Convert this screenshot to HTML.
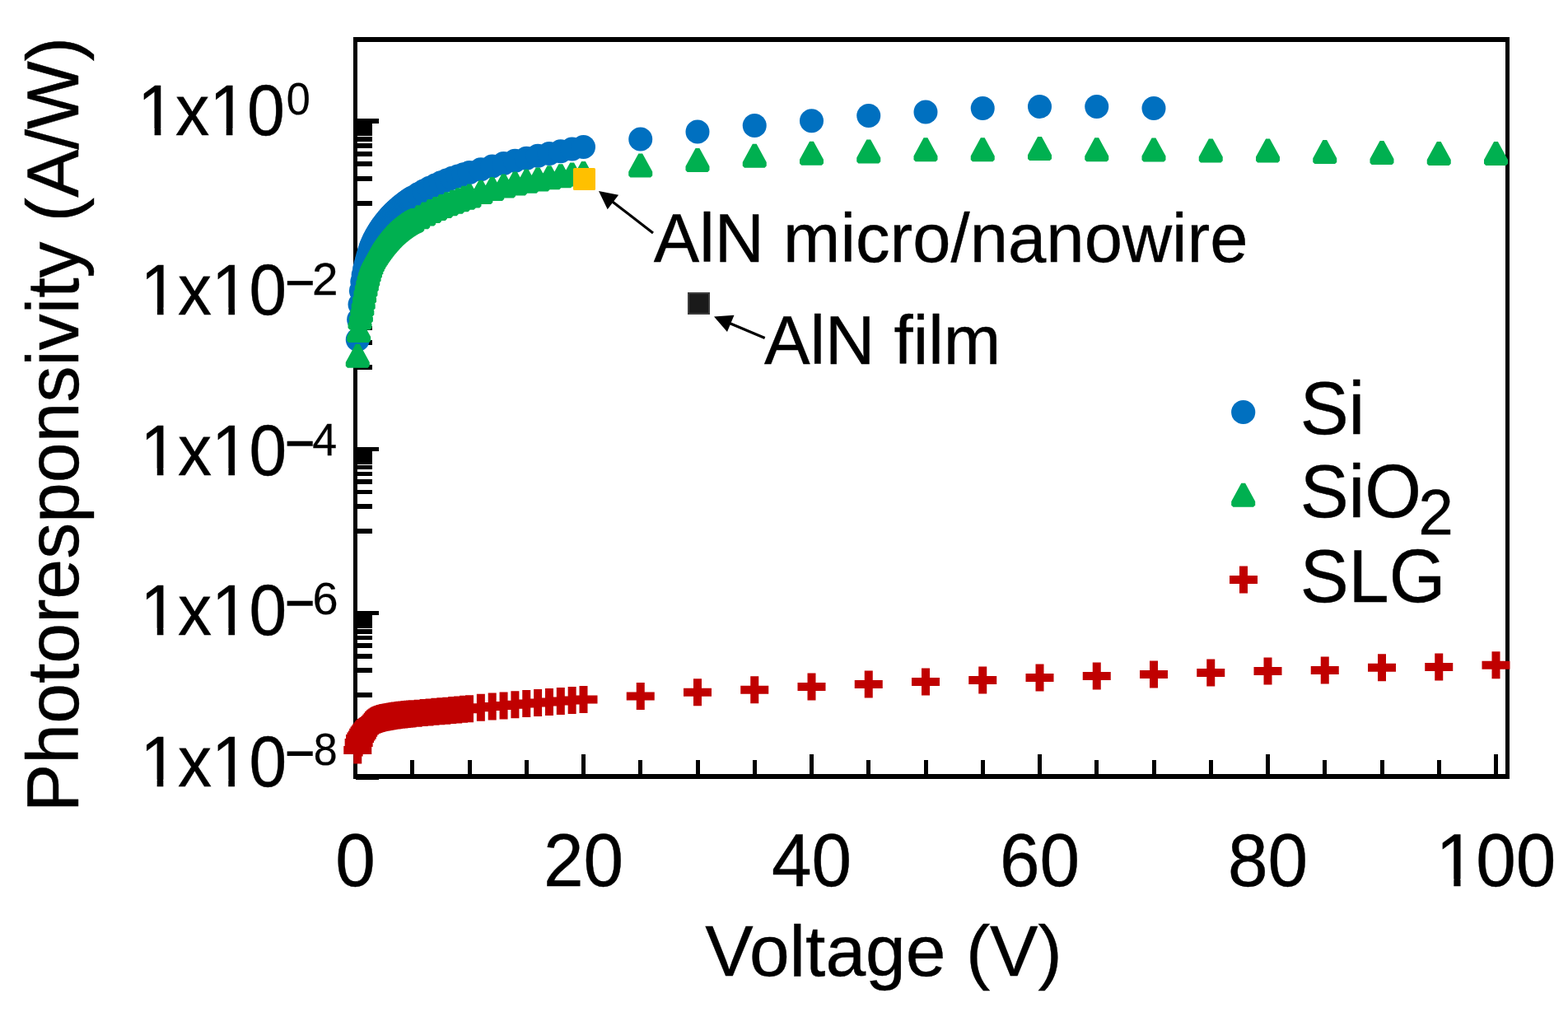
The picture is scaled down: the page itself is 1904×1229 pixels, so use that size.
<!DOCTYPE html><html><head><meta charset="utf-8"><style>html,body{margin:0;padding:0;background:#fff;overflow:hidden}svg{display:block}</style></head><body><svg width="1904" height="1229" viewBox="0 0 1904 1229">
<defs>
<clipPath id="k1"><path clip-rule="evenodd" d="M-100,-200H400V100H-100ZM4.50,-9.5H24.90V2H4.50ZM34.20,-9.5H53.50V2H34.20ZM110.12,-9.5H130.52V2H110.12ZM139.81,-9.5H159.12V2H139.81Z"/></clipPath>
<clipPath id="k100"><path clip-rule="evenodd" d="M-200,-200H300V100H-200ZM-78.92,-9.5H-58.52V2H-78.92ZM-49.22,-9.5H-29.92V2H-49.22Z"/></clipPath>
</defs>
<rect width="1904" height="1229" fill="#fff"/>
<g fill="#000" stroke="none" shape-rendering="crispEdges">
<rect x="429" y="45" width="5" height="901"/>
<rect x="1828" y="45" width="5" height="901"/>
<rect x="429" y="45" width="1404" height="6"/>
<rect x="429" y="940" width="1404" height="6"/>
<rect x="498.25" y="923" width="5" height="20"/>
<rect x="567.50" y="923" width="5" height="20"/>
<rect x="636.75" y="923" width="5" height="20"/>
<rect x="706.00" y="916" width="5" height="27"/>
<rect x="775.25" y="923" width="5" height="20"/>
<rect x="844.50" y="923" width="5" height="20"/>
<rect x="913.75" y="923" width="5" height="20"/>
<rect x="983.00" y="916" width="5" height="27"/>
<rect x="1052.25" y="923" width="5" height="20"/>
<rect x="1121.50" y="923" width="5" height="20"/>
<rect x="1190.75" y="923" width="5" height="20"/>
<rect x="1260.00" y="916" width="5" height="27"/>
<rect x="1329.25" y="923" width="5" height="20"/>
<rect x="1398.50" y="923" width="5" height="20"/>
<rect x="1467.75" y="923" width="5" height="20"/>
<rect x="1537.00" y="916" width="5" height="27"/>
<rect x="1606.25" y="923" width="5" height="20"/>
<rect x="1675.50" y="923" width="5" height="20"/>
<rect x="1744.75" y="923" width="5" height="20"/>
<rect x="1814.00" y="916" width="5" height="27"/>
<rect x="432" y="144.40" width="28" height="5.6"/>
<rect x="432" y="243.97" width="20" height="5.6"/>
<rect x="432" y="214.00" width="20" height="5.6"/>
<rect x="432" y="196.47" width="20" height="5.6"/>
<rect x="432" y="184.02" width="20" height="5.6"/>
<rect x="432" y="174.38" width="20" height="5.6"/>
<rect x="432" y="166.49" width="20" height="5.6"/>
<rect x="432" y="159.82" width="20" height="5.6"/>
<rect x="432" y="154.05" width="20" height="5.6"/>
<rect x="432" y="148.96" width="20" height="5.6"/>
<rect x="432" y="343.55" width="28" height="5.6"/>
<rect x="432" y="443.12" width="20" height="5.6"/>
<rect x="432" y="413.15" width="20" height="5.6"/>
<rect x="432" y="395.62" width="20" height="5.6"/>
<rect x="432" y="383.17" width="20" height="5.6"/>
<rect x="432" y="373.53" width="20" height="5.6"/>
<rect x="432" y="365.64" width="20" height="5.6"/>
<rect x="432" y="358.97" width="20" height="5.6"/>
<rect x="432" y="353.20" width="20" height="5.6"/>
<rect x="432" y="348.11" width="20" height="5.6"/>
<rect x="432" y="542.70" width="28" height="5.6"/>
<rect x="432" y="642.28" width="20" height="5.6"/>
<rect x="432" y="612.30" width="20" height="5.6"/>
<rect x="432" y="594.77" width="20" height="5.6"/>
<rect x="432" y="582.32" width="20" height="5.6"/>
<rect x="432" y="572.68" width="20" height="5.6"/>
<rect x="432" y="564.79" width="20" height="5.6"/>
<rect x="432" y="558.12" width="20" height="5.6"/>
<rect x="432" y="552.35" width="20" height="5.6"/>
<rect x="432" y="547.26" width="20" height="5.6"/>
<rect x="432" y="741.85" width="28" height="5.6"/>
<rect x="432" y="841.42" width="20" height="5.6"/>
<rect x="432" y="811.45" width="20" height="5.6"/>
<rect x="432" y="793.92" width="20" height="5.6"/>
<rect x="432" y="781.47" width="20" height="5.6"/>
<rect x="432" y="771.83" width="20" height="5.6"/>
<rect x="432" y="763.94" width="20" height="5.6"/>
<rect x="432" y="757.27" width="20" height="5.6"/>
<rect x="432" y="751.50" width="20" height="5.6"/>
<rect x="432" y="746.41" width="20" height="5.6"/>
<rect x="432" y="941.00" width="28" height="5.6"/>
</g>
<g fill="#0070C0">
<circle cx="434.27" cy="412.50" r="14.5"/>
<circle cx="435.65" cy="388.00" r="14.5"/>
<circle cx="437.04" cy="369.68" r="14.5"/>
<circle cx="438.43" cy="353.32" r="14.5"/>
<circle cx="439.81" cy="342.11" r="14.5"/>
<circle cx="441.19" cy="333.64" r="14.5"/>
<circle cx="442.58" cy="326.74" r="14.5"/>
<circle cx="443.96" cy="321.12" r="14.5"/>
<circle cx="445.35" cy="316.00" r="14.5"/>
<circle cx="446.74" cy="311.00" r="14.5"/>
<circle cx="448.12" cy="306.30" r="14.5"/>
<circle cx="449.50" cy="302.03" r="14.5"/>
<circle cx="450.89" cy="298.29" r="14.5"/>
<circle cx="452.27" cy="294.98" r="14.5"/>
<circle cx="453.66" cy="291.97" r="14.5"/>
<circle cx="455.05" cy="289.21" r="14.5"/>
<circle cx="456.43" cy="286.64" r="14.5"/>
<circle cx="457.81" cy="284.22" r="14.5"/>
<circle cx="459.20" cy="281.92" r="14.5"/>
<circle cx="460.58" cy="279.73" r="14.5"/>
<circle cx="461.97" cy="277.62" r="14.5"/>
<circle cx="463.36" cy="275.58" r="14.5"/>
<circle cx="464.74" cy="273.63" r="14.5"/>
<circle cx="466.12" cy="271.75" r="14.5"/>
<circle cx="467.51" cy="269.94" r="14.5"/>
<circle cx="468.89" cy="268.20" r="14.5"/>
<circle cx="470.28" cy="266.52" r="14.5"/>
<circle cx="471.67" cy="264.91" r="14.5"/>
<circle cx="473.05" cy="263.34" r="14.5"/>
<circle cx="474.44" cy="261.83" r="14.5"/>
<circle cx="475.82" cy="260.36" r="14.5"/>
<circle cx="477.20" cy="258.95" r="14.5"/>
<circle cx="478.59" cy="257.57" r="14.5"/>
<circle cx="479.98" cy="256.24" r="14.5"/>
<circle cx="481.36" cy="254.94" r="14.5"/>
<circle cx="482.75" cy="253.68" r="14.5"/>
<circle cx="484.13" cy="252.46" r="14.5"/>
<circle cx="485.51" cy="251.27" r="14.5"/>
<circle cx="486.90" cy="250.11" r="14.5"/>
<circle cx="488.28" cy="248.99" r="14.5"/>
<circle cx="489.67" cy="247.89" r="14.5"/>
<circle cx="491.06" cy="246.82" r="14.5"/>
<circle cx="492.44" cy="245.77" r="14.5"/>
<circle cx="493.82" cy="244.75" r="14.5"/>
<circle cx="495.21" cy="243.76" r="14.5"/>
<circle cx="496.60" cy="242.79" r="14.5"/>
<circle cx="497.98" cy="241.84" r="14.5"/>
<circle cx="499.37" cy="240.91" r="14.5"/>
<circle cx="500.75" cy="240.00" r="14.5"/>
<circle cx="507.68" cy="235.71" r="14.5"/>
<circle cx="514.60" cy="231.80" r="14.5"/>
<circle cx="521.52" cy="228.20" r="14.5"/>
<circle cx="528.45" cy="224.89" r="14.5"/>
<circle cx="535.38" cy="221.83" r="14.5"/>
<circle cx="542.30" cy="219.00" r="14.5"/>
<circle cx="549.23" cy="216.37" r="14.5"/>
<circle cx="556.15" cy="213.92" r="14.5"/>
<circle cx="563.08" cy="211.64" r="14.5"/>
<circle cx="570.00" cy="209.50" r="14.5"/>
<circle cx="583.85" cy="205.70" r="14.5"/>
<circle cx="597.70" cy="202.00" r="14.5"/>
<circle cx="611.55" cy="198.60" r="14.5"/>
<circle cx="625.40" cy="195.30" r="14.5"/>
<circle cx="639.25" cy="192.20" r="14.5"/>
<circle cx="653.10" cy="189.30" r="14.5"/>
<circle cx="666.95" cy="186.40" r="14.5"/>
<circle cx="680.80" cy="183.70" r="14.5"/>
<circle cx="694.65" cy="181.10" r="14.5"/>
<circle cx="708.50" cy="178.60" r="14.5"/>
<circle cx="777.75" cy="169.00" r="14.5"/>
<circle cx="847.00" cy="159.90" r="14.5"/>
<circle cx="916.25" cy="152.40" r="14.5"/>
<circle cx="985.50" cy="146.80" r="14.5"/>
<circle cx="1054.75" cy="140.60" r="14.5"/>
<circle cx="1124.00" cy="135.90" r="14.5"/>
<circle cx="1193.25" cy="131.50" r="14.5"/>
<circle cx="1262.50" cy="129.40" r="14.5"/>
<circle cx="1331.75" cy="129.40" r="14.5"/>
<circle cx="1401.00" cy="131.40" r="14.5"/>
</g>
<path fill="#00B050" d="M431.87,417.80 436.67,417.80 448.77,439.90 448.77,444.60 446.57,446.80 421.97,446.80 419.77,444.60 419.77,439.90ZM433.25,387.00 438.05,387.00 450.15,409.10 450.15,413.80 447.95,416.00 423.35,416.00 421.15,413.80 421.15,409.10ZM434.64,371.50 439.44,371.50 451.54,393.60 451.54,398.30 449.34,400.50 424.74,400.50 422.54,398.30 422.54,393.60ZM436.03,363.50 440.82,363.50 452.93,385.60 452.93,390.30 450.73,392.50 426.12,392.50 423.93,390.30 423.93,385.60ZM437.41,355.50 442.21,355.50 454.31,377.60 454.31,382.30 452.11,384.50 427.51,384.50 425.31,382.30 425.31,377.60ZM438.80,347.76 443.59,347.76 455.69,369.86 455.69,374.56 453.50,376.76 428.89,376.76 426.69,374.56 426.69,369.86ZM440.18,340.01 444.98,340.01 457.08,362.11 457.08,366.81 454.88,369.01 430.28,369.01 428.08,366.81 428.08,362.11ZM441.56,332.26 446.36,332.26 458.46,354.36 458.46,359.06 456.26,361.26 431.66,361.26 429.46,359.06 429.46,354.36ZM442.95,325.64 447.75,325.64 459.85,347.74 459.85,352.44 457.65,354.64 433.05,354.64 430.85,352.44 430.85,347.74ZM444.34,319.75 449.13,319.75 461.24,341.85 461.24,346.55 459.04,348.75 434.44,348.75 432.24,346.55 432.24,341.85ZM445.72,314.42 450.52,314.42 462.62,336.52 462.62,341.22 460.42,343.42 435.82,343.42 433.62,341.22 433.62,336.52ZM447.11,309.71 451.90,309.71 464.00,331.81 464.00,336.51 461.81,338.71 437.20,338.71 435.00,336.51 435.00,331.81ZM448.49,305.61 453.29,305.61 465.39,327.71 465.39,332.41 463.19,334.61 438.59,334.61 436.39,332.41 436.39,327.71ZM449.88,302.13 454.67,302.13 466.77,324.23 466.77,328.93 464.57,331.13 439.97,331.13 437.77,328.93 437.77,324.23ZM451.26,299.22 456.06,299.22 468.16,321.32 468.16,326.02 465.96,328.22 441.36,328.22 439.16,326.02 439.16,321.32ZM452.65,296.77 457.44,296.77 469.55,318.87 469.55,323.57 467.35,325.77 442.75,325.77 440.55,323.57 440.55,318.87ZM454.03,294.58 458.83,294.58 470.93,316.68 470.93,321.38 468.73,323.58 444.13,323.58 441.93,321.38 441.93,316.68ZM455.42,292.52 460.21,292.52 472.31,314.62 472.31,319.32 470.12,321.52 445.51,321.52 443.31,319.32 443.31,314.62ZM456.80,290.50 461.60,290.50 473.70,312.60 473.70,317.30 471.50,319.50 446.90,319.50 444.70,317.30 444.70,312.60ZM458.19,288.52 462.98,288.52 475.08,310.62 475.08,315.32 472.88,317.52 448.28,317.52 446.08,315.32 446.08,310.62ZM459.57,286.62 464.37,286.62 476.47,308.72 476.47,313.42 474.27,315.62 449.67,315.62 447.47,313.42 447.47,308.72ZM460.96,284.79 465.75,284.79 477.86,306.89 477.86,311.59 475.66,313.79 451.06,313.79 448.86,311.59 448.86,306.89ZM462.34,283.02 467.14,283.02 479.24,305.12 479.24,309.82 477.04,312.02 452.44,312.02 450.24,309.82 450.24,305.12ZM463.73,281.30 468.52,281.30 480.62,303.40 480.62,308.10 478.43,310.30 453.82,310.30 451.62,308.10 451.62,303.40ZM465.11,279.61 469.91,279.61 482.01,301.71 482.01,306.41 479.81,308.61 455.21,308.61 453.01,306.41 453.01,301.71ZM466.50,277.97 471.29,277.97 483.39,300.07 483.39,304.77 481.19,306.97 456.59,306.97 454.39,304.77 454.39,300.07ZM467.88,276.38 472.68,276.38 484.78,298.48 484.78,303.18 482.58,305.38 457.98,305.38 455.78,303.18 455.78,298.48ZM469.27,274.84 474.06,274.84 486.17,296.94 486.17,301.64 483.97,303.84 459.37,303.84 457.17,301.64 457.17,296.94ZM470.65,273.35 475.45,273.35 487.55,295.45 487.55,300.15 485.35,302.35 460.75,302.35 458.55,300.15 458.55,295.45ZM472.04,271.93 476.83,271.93 488.94,294.03 488.94,298.73 486.74,300.93 462.13,300.93 459.94,298.73 459.94,294.03ZM473.42,270.56 478.22,270.56 490.32,292.66 490.32,297.36 488.12,299.56 463.52,299.56 461.32,297.36 461.32,292.66ZM474.81,269.26 479.60,269.26 491.70,291.36 491.70,296.06 489.50,298.26 464.90,298.26 462.70,296.06 462.70,291.36ZM476.19,268.01 480.99,268.01 493.09,290.11 493.09,294.81 490.89,297.01 466.29,297.01 464.09,294.81 464.09,290.11ZM477.58,266.79 482.38,266.79 494.48,288.89 494.48,293.59 492.28,295.79 467.68,295.79 465.48,293.59 465.48,288.89ZM478.96,265.61 483.76,265.61 495.86,287.71 495.86,292.41 493.66,294.61 469.06,294.61 466.86,292.41 466.86,287.71ZM480.35,264.46 485.14,264.46 497.25,286.56 497.25,291.26 495.05,293.46 470.44,293.46 468.25,291.26 468.25,286.56ZM481.73,263.35 486.53,263.35 498.63,285.45 498.63,290.15 496.43,292.35 471.83,292.35 469.63,290.15 469.63,285.45ZM483.12,262.27 487.91,262.27 500.01,284.37 500.01,289.07 497.81,291.27 473.21,291.27 471.01,289.07 471.01,284.37ZM484.50,261.23 489.30,261.23 501.40,283.33 501.40,288.03 499.20,290.23 474.60,290.23 472.40,288.03 472.40,283.33ZM485.88,260.23 490.68,260.23 502.78,282.33 502.78,287.03 500.58,289.23 475.98,289.23 473.78,287.03 473.78,282.33ZM487.27,259.27 492.07,259.27 504.17,281.37 504.17,286.07 501.97,288.27 477.37,288.27 475.17,286.07 475.17,281.37ZM488.66,258.35 493.45,258.35 505.56,280.45 505.56,285.15 503.36,287.35 478.75,287.35 476.56,285.15 476.56,280.45ZM490.04,257.47 494.84,257.47 506.94,279.57 506.94,284.27 504.74,286.47 480.14,286.47 477.94,284.27 477.94,279.57ZM491.43,256.62 496.22,256.62 508.32,278.72 508.32,283.42 506.12,285.62 481.52,285.62 479.32,283.42 479.32,278.72ZM492.81,255.81 497.61,255.81 509.71,277.91 509.71,282.61 507.51,284.81 482.91,284.81 480.71,282.61 480.71,277.91ZM494.20,255.05 499.00,255.05 511.10,277.15 511.10,281.85 508.90,284.05 484.30,284.05 482.10,281.85 482.10,277.15ZM495.58,254.37 500.38,254.37 512.48,276.47 512.48,281.17 510.28,283.37 485.68,283.37 483.48,281.17 483.48,276.47ZM496.97,253.70 501.76,253.70 513.87,275.80 513.87,280.50 511.67,282.70 487.06,282.70 484.87,280.50 484.87,275.80ZM498.35,253.00 503.15,253.00 515.25,275.10 515.25,279.80 513.05,282.00 488.45,282.00 486.25,279.80 486.25,275.10ZM505.28,249.29 510.07,249.29 522.17,271.39 522.17,276.09 519.98,278.29 495.38,278.29 493.18,276.09 493.18,271.39ZM512.20,245.60 517.00,245.60 529.10,267.70 529.10,272.40 526.90,274.60 502.30,274.60 500.10,272.40 500.10,267.70ZM519.12,242.10 523.92,242.10 536.02,264.20 536.02,268.90 533.82,271.10 509.22,271.10 507.02,268.90 507.02,264.20ZM526.05,238.90 530.85,238.90 542.95,261.00 542.95,265.70 540.75,267.90 516.15,267.90 513.95,265.70 513.95,261.00ZM532.98,235.98 537.77,235.98 549.88,258.08 549.88,262.78 547.67,264.98 523.08,264.98 520.88,262.78 520.88,258.08ZM539.90,233.26 544.70,233.26 556.80,255.36 556.80,260.06 554.60,262.26 530.00,262.26 527.80,260.06 527.80,255.36ZM546.83,230.68 551.62,230.68 563.73,252.78 563.73,257.48 561.52,259.68 536.93,259.68 534.73,257.48 534.73,252.78ZM553.75,228.21 558.55,228.21 570.65,250.31 570.65,255.01 568.45,257.21 543.85,257.21 541.65,255.01 541.65,250.31ZM560.68,225.83 565.48,225.83 577.58,247.93 577.58,252.63 575.38,254.83 550.78,254.83 548.58,252.63 548.58,247.93ZM567.60,223.50 572.40,223.50 584.50,245.60 584.50,250.30 582.30,252.50 557.70,252.50 555.50,250.30 555.50,245.60ZM581.45,218.90 586.25,218.90 598.35,241.00 598.35,245.70 596.15,247.90 571.55,247.90 569.35,245.70 569.35,241.00ZM595.30,215.00 600.10,215.00 612.20,237.10 612.20,241.80 610.00,244.00 585.40,244.00 583.20,241.80 583.20,237.10ZM609.15,211.50 613.95,211.50 626.05,233.60 626.05,238.30 623.85,240.50 599.25,240.50 597.05,238.30 597.05,233.60ZM623.00,208.50 627.80,208.50 639.90,230.60 639.90,235.30 637.70,237.50 613.10,237.50 610.90,235.30 610.90,230.60ZM636.85,205.80 641.65,205.80 653.75,227.90 653.75,232.60 651.55,234.80 626.95,234.80 624.75,232.60 624.75,227.90ZM650.70,203.40 655.50,203.40 667.60,225.50 667.60,230.20 665.40,232.40 640.80,232.40 638.60,230.20 638.60,225.50ZM664.55,201.20 669.35,201.20 681.45,223.30 681.45,228.00 679.25,230.20 654.65,230.20 652.45,228.00 652.45,223.30ZM678.40,199.30 683.20,199.30 695.30,221.40 695.30,226.10 693.10,228.30 668.50,228.30 666.30,226.10 666.30,221.40ZM692.25,197.50 697.05,197.50 709.15,219.60 709.15,224.30 706.95,226.50 682.35,226.50 680.15,224.30 680.15,219.60ZM706.10,195.90 710.90,195.90 723.00,218.00 723.00,222.70 720.80,224.90 696.20,224.90 694.00,222.70 694.00,218.00ZM775.35,186.50 780.15,186.50 792.25,208.60 792.25,213.30 790.05,215.50 765.45,215.50 763.25,213.30 763.25,208.60ZM844.60,180.00 849.40,180.00 861.50,202.10 861.50,206.80 859.30,209.00 834.70,209.00 832.50,206.80 832.50,202.10ZM913.85,174.80 918.65,174.80 930.75,196.90 930.75,201.60 928.55,203.80 903.95,203.80 901.75,201.60 901.75,196.90ZM983.10,171.70 987.90,171.70 1000.00,193.80 1000.00,198.50 997.80,200.70 973.20,200.70 971.00,198.50 971.00,193.80ZM1052.35,169.50 1057.15,169.50 1069.25,191.60 1069.25,196.30 1067.05,198.50 1042.45,198.50 1040.25,196.30 1040.25,191.60ZM1121.60,167.30 1126.40,167.30 1138.50,189.40 1138.50,194.10 1136.30,196.30 1111.70,196.30 1109.50,194.10 1109.50,189.40ZM1190.85,167.30 1195.65,167.30 1207.75,189.40 1207.75,194.10 1205.55,196.30 1180.95,196.30 1178.75,194.10 1178.75,189.40ZM1260.10,166.10 1264.90,166.10 1277.00,188.20 1277.00,192.90 1274.80,195.10 1250.20,195.10 1248.00,192.90 1248.00,188.20ZM1329.35,167.30 1334.15,167.30 1346.25,189.40 1346.25,194.10 1344.05,196.30 1319.45,196.30 1317.25,194.10 1317.25,189.40ZM1398.60,167.40 1403.40,167.40 1415.50,189.50 1415.50,194.20 1413.30,196.40 1388.70,196.40 1386.50,194.20 1386.50,189.50ZM1467.85,168.50 1472.65,168.50 1484.75,190.60 1484.75,195.30 1482.55,197.50 1457.95,197.50 1455.75,195.30 1455.75,190.60ZM1537.10,168.50 1541.90,168.50 1554.00,190.60 1554.00,195.30 1551.80,197.50 1527.20,197.50 1525.00,195.30 1525.00,190.60ZM1606.35,170.10 1611.15,170.10 1623.25,192.20 1623.25,196.90 1621.05,199.10 1596.45,199.10 1594.25,196.90 1594.25,192.20ZM1675.60,170.90 1680.40,170.90 1692.50,193.00 1692.50,197.70 1690.30,199.90 1665.70,199.90 1663.50,197.70 1663.50,193.00ZM1744.85,171.90 1749.65,171.90 1761.75,194.00 1761.75,198.70 1759.55,200.90 1734.95,200.90 1732.75,198.70 1732.75,194.00ZM1814.10,171.90 1818.90,171.90 1831.00,194.00 1831.00,198.70 1828.80,200.90 1804.20,200.90 1802.00,198.70 1802.00,194.00Z"/>
<path fill="#C00000" d="M429.27,894.50 439.27,894.50 439.27,906.00 451.27,906.00 451.27,916.00 439.27,916.00 439.27,927.50 429.27,927.50 429.27,916.00 417.27,916.00 417.27,906.00 429.27,906.00ZM430.65,885.50 440.65,885.50 440.65,897.00 452.65,897.00 452.65,907.00 440.65,907.00 440.65,918.50 430.65,918.50 430.65,907.00 418.65,907.00 418.65,897.00 430.65,897.00ZM432.04,880.50 442.04,880.50 442.04,892.00 454.04,892.00 454.04,902.00 442.04,902.00 442.04,913.50 432.04,913.50 432.04,902.00 420.04,902.00 420.04,892.00 432.04,892.00ZM433.43,877.99 443.43,877.99 443.43,889.49 455.43,889.49 455.43,899.49 443.43,899.49 443.43,910.99 433.43,910.99 433.43,899.49 421.43,899.49 421.43,889.49 433.43,889.49ZM434.81,875.95 444.81,875.95 444.81,887.45 456.81,887.45 456.81,897.45 444.81,897.45 444.81,908.95 434.81,908.95 434.81,897.45 422.81,897.45 422.81,887.45 434.81,887.45ZM436.19,873.30 446.19,873.30 446.19,884.80 458.19,884.80 458.19,894.80 446.19,894.80 446.19,906.30 436.19,906.30 436.19,894.80 424.19,894.80 424.19,884.80 436.19,884.80ZM437.58,870.88 447.58,870.88 447.58,882.38 459.58,882.38 459.58,892.38 447.58,892.38 447.58,903.88 437.58,903.88 437.58,892.38 425.58,892.38 425.58,882.38 437.58,882.38ZM438.96,869.14 448.96,869.14 448.96,880.64 460.96,880.64 460.96,890.64 448.96,890.64 448.96,902.14 438.96,902.14 438.96,890.64 426.96,890.64 426.96,880.64 438.96,880.64ZM440.35,867.50 450.35,867.50 450.35,879.00 462.35,879.00 462.35,889.00 450.35,889.00 450.35,900.50 440.35,900.50 440.35,889.00 428.35,889.00 428.35,879.00 440.35,879.00ZM441.74,865.72 451.74,865.72 451.74,877.22 463.74,877.22 463.74,887.22 451.74,887.22 451.74,898.72 441.74,898.72 441.74,887.22 429.74,887.22 429.74,877.22 441.74,877.22ZM443.12,864.02 453.12,864.02 453.12,875.52 465.12,875.52 465.12,885.52 453.12,885.52 453.12,897.02 443.12,897.02 443.12,885.52 431.12,885.52 431.12,875.52 443.12,875.52ZM444.50,862.61 454.50,862.61 454.50,874.11 466.50,874.11 466.50,884.11 454.50,884.11 454.50,895.61 444.50,895.61 444.50,884.11 432.50,884.11 432.50,874.11 444.50,874.11ZM445.89,861.42 455.89,861.42 455.89,872.92 467.89,872.92 467.89,882.92 455.89,882.92 455.89,894.42 445.89,894.42 445.89,882.92 433.89,882.92 433.89,872.92 445.89,872.92ZM447.27,860.38 457.27,860.38 457.27,871.88 469.27,871.88 469.27,881.88 457.27,881.88 457.27,893.38 447.27,893.38 447.27,881.88 435.27,881.88 435.27,871.88 447.27,871.88ZM448.66,859.50 458.66,859.50 458.66,871.00 470.66,871.00 470.66,881.00 458.66,881.00 458.66,892.50 448.66,892.50 448.66,881.00 436.66,881.00 436.66,871.00 448.66,871.00ZM450.05,858.74 460.05,858.74 460.05,870.24 472.05,870.24 472.05,880.24 460.05,880.24 460.05,891.74 450.05,891.74 450.05,880.24 438.05,880.24 438.05,870.24 450.05,870.24ZM451.43,858.05 461.43,858.05 461.43,869.55 473.43,869.55 473.43,879.55 461.43,879.55 461.43,891.05 451.43,891.05 451.43,879.55 439.43,879.55 439.43,869.55 451.43,869.55ZM452.81,857.44 462.81,857.44 462.81,868.94 474.81,868.94 474.81,878.94 462.81,878.94 462.81,890.44 452.81,890.44 452.81,878.94 440.81,878.94 440.81,868.94 452.81,868.94ZM454.20,856.90 464.20,856.90 464.20,868.40 476.20,868.40 476.20,878.40 464.20,878.40 464.20,889.90 454.20,889.90 454.20,878.40 442.20,878.40 442.20,868.40 454.20,868.40ZM455.58,856.42 465.58,856.42 465.58,867.92 477.58,867.92 477.58,877.92 465.58,877.92 465.58,889.42 455.58,889.42 455.58,877.92 443.58,877.92 443.58,867.92 455.58,867.92ZM456.97,856.00 466.97,856.00 466.97,867.50 478.97,867.50 478.97,877.50 466.97,877.50 466.97,889.00 456.97,889.00 456.97,877.50 444.97,877.50 444.97,867.50 456.97,867.50ZM458.36,855.64 468.36,855.64 468.36,867.14 480.36,867.14 480.36,877.14 468.36,877.14 468.36,888.64 458.36,888.64 458.36,877.14 446.36,877.14 446.36,867.14 458.36,867.14ZM459.74,855.32 469.74,855.32 469.74,866.82 481.74,866.82 481.74,876.82 469.74,876.82 469.74,888.32 459.74,888.32 459.74,876.82 447.74,876.82 447.74,866.82 459.74,866.82ZM461.12,855.03 471.12,855.03 471.12,866.53 483.12,866.53 483.12,876.53 471.12,876.53 471.12,888.03 461.12,888.03 461.12,876.53 449.12,876.53 449.12,866.53 461.12,866.53ZM462.51,854.77 472.51,854.77 472.51,866.27 484.51,866.27 484.51,876.27 472.51,876.27 472.51,887.77 462.51,887.77 462.51,876.27 450.51,876.27 450.51,866.27 462.51,866.27ZM463.89,854.52 473.89,854.52 473.89,866.02 485.89,866.02 485.89,876.02 473.89,876.02 473.89,887.52 463.89,887.52 463.89,876.02 451.89,876.02 451.89,866.02 463.89,866.02ZM465.28,854.28 475.28,854.28 475.28,865.78 487.28,865.78 487.28,875.78 475.28,875.78 475.28,887.28 465.28,887.28 465.28,875.78 453.28,875.78 453.28,865.78 465.28,865.78ZM466.67,854.04 476.67,854.04 476.67,865.54 488.67,865.54 488.67,875.54 476.67,875.54 476.67,887.04 466.67,887.04 466.67,875.54 454.67,875.54 454.67,865.54 466.67,865.54ZM468.05,853.80 478.05,853.80 478.05,865.30 490.05,865.30 490.05,875.30 478.05,875.30 478.05,886.80 468.05,886.80 468.05,875.30 456.05,875.30 456.05,865.30 468.05,865.30ZM469.44,853.55 479.44,853.55 479.44,865.05 491.44,865.05 491.44,875.05 479.44,875.05 479.44,886.55 469.44,886.55 469.44,875.05 457.44,875.05 457.44,865.05 469.44,865.05ZM470.82,853.31 480.82,853.31 480.82,864.81 492.82,864.81 492.82,874.81 480.82,874.81 480.82,886.31 470.82,886.31 470.82,874.81 458.82,874.81 458.82,864.81 470.82,864.81ZM472.20,853.06 482.20,853.06 482.20,864.56 494.20,864.56 494.20,874.56 482.20,874.56 482.20,886.06 472.20,886.06 472.20,874.56 460.20,874.56 460.20,864.56 472.20,864.56ZM473.59,852.83 483.59,852.83 483.59,864.33 495.59,864.33 495.59,874.33 483.59,874.33 483.59,885.83 473.59,885.83 473.59,874.33 461.59,874.33 461.59,864.33 473.59,864.33ZM474.98,852.61 484.98,852.61 484.98,864.11 496.98,864.11 496.98,874.11 484.98,874.11 484.98,885.61 474.98,885.61 474.98,874.11 462.98,874.11 462.98,864.11 474.98,864.11ZM476.36,852.40 486.36,852.40 486.36,863.90 498.36,863.90 498.36,873.90 486.36,873.90 486.36,885.40 476.36,885.40 476.36,873.90 464.36,873.90 464.36,863.90 476.36,863.90ZM477.75,852.20 487.75,852.20 487.75,863.70 499.75,863.70 499.75,873.70 487.75,873.70 487.75,885.20 477.75,885.20 477.75,873.70 465.75,873.70 465.75,863.70 477.75,863.70ZM479.13,852.02 489.13,852.02 489.13,863.52 501.13,863.52 501.13,873.52 489.13,873.52 489.13,885.02 479.13,885.02 479.13,873.52 467.13,873.52 467.13,863.52 479.13,863.52ZM480.51,851.85 490.51,851.85 490.51,863.35 502.51,863.35 502.51,873.35 490.51,873.35 490.51,884.85 480.51,884.85 480.51,873.35 468.51,873.35 468.51,863.35 480.51,863.35ZM481.90,851.69 491.90,851.69 491.90,863.19 503.90,863.19 503.90,873.19 491.90,873.19 491.90,884.69 481.90,884.69 481.90,873.19 469.90,873.19 469.90,863.19 481.90,863.19ZM483.28,851.54 493.28,851.54 493.28,863.04 505.28,863.04 505.28,873.04 493.28,873.04 493.28,884.54 483.28,884.54 483.28,873.04 471.28,873.04 471.28,863.04 483.28,863.04ZM484.67,851.39 494.67,851.39 494.67,862.89 506.67,862.89 506.67,872.89 494.67,872.89 494.67,884.39 484.67,884.39 484.67,872.89 472.67,872.89 472.67,862.89 484.67,862.89ZM486.06,851.26 496.06,851.26 496.06,862.76 508.06,862.76 508.06,872.76 496.06,872.76 496.06,884.26 486.06,884.26 486.06,872.76 474.06,872.76 474.06,862.76 486.06,862.76ZM487.44,851.12 497.44,851.12 497.44,862.62 509.44,862.62 509.44,872.62 497.44,872.62 497.44,884.12 487.44,884.12 487.44,872.62 475.44,872.62 475.44,862.62 487.44,862.62ZM488.82,850.99 498.82,850.99 498.82,862.49 510.82,862.49 510.82,872.49 498.82,872.49 498.82,883.99 488.82,883.99 488.82,872.49 476.82,872.49 476.82,862.49 488.82,862.49ZM490.21,850.86 500.21,850.86 500.21,862.36 512.21,862.36 512.21,872.36 500.21,872.36 500.21,883.86 490.21,883.86 490.21,872.36 478.21,872.36 478.21,862.36 490.21,862.36ZM491.60,850.73 501.60,850.73 501.60,862.23 513.60,862.23 513.60,872.23 501.60,872.23 501.60,883.73 491.60,883.73 491.60,872.23 479.60,872.23 479.60,862.23 491.60,862.23ZM492.98,850.60 502.98,850.60 502.98,862.10 514.98,862.10 514.98,872.10 502.98,872.10 502.98,883.60 492.98,883.60 492.98,872.10 480.98,872.10 480.98,862.10 492.98,862.10ZM494.37,850.47 504.37,850.47 504.37,861.97 516.37,861.97 516.37,871.97 504.37,871.97 504.37,883.47 494.37,883.47 494.37,871.97 482.37,871.97 482.37,861.97 494.37,861.97ZM495.75,850.35 505.75,850.35 505.75,861.85 517.75,861.85 517.75,871.85 505.75,871.85 505.75,883.35 495.75,883.35 495.75,871.85 483.75,871.85 483.75,861.85 495.75,861.85ZM502.68,849.70 512.67,849.70 512.67,861.20 524.67,861.20 524.67,871.20 512.67,871.20 512.67,882.70 502.68,882.70 502.68,871.20 490.68,871.20 490.68,861.20 502.68,861.20ZM509.60,849.08 519.60,849.08 519.60,860.58 531.60,860.58 531.60,870.58 519.60,870.58 519.60,882.08 509.60,882.08 509.60,870.58 497.60,870.58 497.60,860.58 509.60,860.58ZM516.52,848.47 526.52,848.47 526.52,859.97 538.52,859.97 538.52,869.97 526.52,869.97 526.52,881.47 516.52,881.47 516.52,869.97 504.52,869.97 504.52,859.97 516.52,859.97ZM523.45,847.86 533.45,847.86 533.45,859.36 545.45,859.36 545.45,869.36 533.45,869.36 533.45,880.86 523.45,880.86 523.45,869.36 511.45,869.36 511.45,859.36 523.45,859.36ZM530.38,847.26 540.38,847.26 540.38,858.76 552.38,858.76 552.38,868.76 540.38,868.76 540.38,880.26 530.38,880.26 530.38,868.76 518.38,868.76 518.38,858.76 530.38,858.76ZM537.30,846.65 547.30,846.65 547.30,858.15 559.30,858.15 559.30,868.15 547.30,868.15 547.30,879.65 537.30,879.65 537.30,868.15 525.30,868.15 525.30,858.15 537.30,858.15ZM544.23,846.05 554.23,846.05 554.23,857.55 566.23,857.55 566.23,867.55 554.23,867.55 554.23,879.05 544.23,879.05 544.23,867.55 532.23,867.55 532.23,857.55 544.23,857.55ZM551.15,845.44 561.15,845.44 561.15,856.94 573.15,856.94 573.15,866.94 561.15,866.94 561.15,878.44 551.15,878.44 551.15,866.94 539.15,866.94 539.15,856.94 551.15,856.94ZM558.08,844.83 568.08,844.83 568.08,856.33 580.08,856.33 580.08,866.33 568.08,866.33 568.08,877.83 558.08,877.83 558.08,866.33 546.08,866.33 546.08,856.33 558.08,856.33ZM565.00,844.20 575.00,844.20 575.00,855.70 587.00,855.70 587.00,865.70 575.00,865.70 575.00,877.20 565.00,877.20 565.00,865.70 553.00,865.70 553.00,855.70 565.00,855.70ZM578.85,842.80 588.85,842.80 588.85,854.30 600.85,854.30 600.85,864.30 588.85,864.30 588.85,875.80 578.85,875.80 578.85,864.30 566.85,864.30 566.85,854.30 578.85,854.30ZM592.70,841.60 602.70,841.60 602.70,853.10 614.70,853.10 614.70,863.10 602.70,863.10 602.70,874.60 592.70,874.60 592.70,863.10 580.70,863.10 580.70,853.10 592.70,853.10ZM606.55,840.40 616.55,840.40 616.55,851.90 628.55,851.90 628.55,861.90 616.55,861.90 616.55,873.40 606.55,873.40 606.55,861.90 594.55,861.90 594.55,851.90 606.55,851.90ZM620.40,839.20 630.40,839.20 630.40,850.70 642.40,850.70 642.40,860.70 630.40,860.70 630.40,872.20 620.40,872.20 620.40,860.70 608.40,860.70 608.40,850.70 620.40,850.70ZM634.25,838.10 644.25,838.10 644.25,849.60 656.25,849.60 656.25,859.60 644.25,859.60 644.25,871.10 634.25,871.10 634.25,859.60 622.25,859.60 622.25,849.60 634.25,849.60ZM648.10,837.00 658.10,837.00 658.10,848.50 670.10,848.50 670.10,858.50 658.10,858.50 658.10,870.00 648.10,870.00 648.10,858.50 636.10,858.50 636.10,848.50 648.10,848.50ZM661.95,835.90 671.95,835.90 671.95,847.40 683.95,847.40 683.95,857.40 671.95,857.40 671.95,868.90 661.95,868.90 661.95,857.40 649.95,857.40 649.95,847.40 661.95,847.40ZM675.80,834.90 685.80,834.90 685.80,846.40 697.80,846.40 697.80,856.40 685.80,856.40 685.80,867.90 675.80,867.90 675.80,856.40 663.80,856.40 663.80,846.40 675.80,846.40ZM689.65,833.90 699.65,833.90 699.65,845.40 711.65,845.40 711.65,855.40 699.65,855.40 699.65,866.90 689.65,866.90 689.65,855.40 677.65,855.40 677.65,845.40 689.65,845.40ZM703.50,833.00 713.50,833.00 713.50,844.50 725.50,844.50 725.50,854.50 713.50,854.50 713.50,866.00 703.50,866.00 703.50,854.50 691.50,854.50 691.50,844.50 703.50,844.50ZM772.75,829.00 782.75,829.00 782.75,840.50 794.75,840.50 794.75,850.50 782.75,850.50 782.75,862.00 772.75,862.00 772.75,850.50 760.75,850.50 760.75,840.50 772.75,840.50ZM842.00,824.20 852.00,824.20 852.00,835.70 864.00,835.70 864.00,845.70 852.00,845.70 852.00,857.20 842.00,857.20 842.00,845.70 830.00,845.70 830.00,835.70 842.00,835.70ZM911.25,821.30 921.25,821.30 921.25,832.80 933.25,832.80 933.25,842.80 921.25,842.80 921.25,854.30 911.25,854.30 911.25,842.80 899.25,842.80 899.25,832.80 911.25,832.80ZM980.50,817.50 990.50,817.50 990.50,829.00 1002.50,829.00 1002.50,839.00 990.50,839.00 990.50,850.50 980.50,850.50 980.50,839.00 968.50,839.00 968.50,829.00 980.50,829.00ZM1049.75,814.50 1059.75,814.50 1059.75,826.00 1071.75,826.00 1071.75,836.00 1059.75,836.00 1059.75,847.50 1049.75,847.50 1049.75,836.00 1037.75,836.00 1037.75,826.00 1049.75,826.00ZM1119.00,811.60 1129.00,811.60 1129.00,823.10 1141.00,823.10 1141.00,833.10 1129.00,833.10 1129.00,844.60 1119.00,844.60 1119.00,833.10 1107.00,833.10 1107.00,823.10 1119.00,823.10ZM1188.25,809.50 1198.25,809.50 1198.25,821.00 1210.25,821.00 1210.25,831.00 1198.25,831.00 1198.25,842.50 1188.25,842.50 1188.25,831.00 1176.25,831.00 1176.25,821.00 1188.25,821.00ZM1257.50,806.60 1267.50,806.60 1267.50,818.10 1279.50,818.10 1279.50,828.10 1267.50,828.10 1267.50,839.60 1257.50,839.60 1257.50,828.10 1245.50,828.10 1245.50,818.10 1257.50,818.10ZM1326.75,804.50 1336.75,804.50 1336.75,816.00 1348.75,816.00 1348.75,826.00 1336.75,826.00 1336.75,837.50 1326.75,837.50 1326.75,826.00 1314.75,826.00 1314.75,816.00 1326.75,816.00ZM1396.00,802.50 1406.00,802.50 1406.00,814.00 1418.00,814.00 1418.00,824.00 1406.00,824.00 1406.00,835.50 1396.00,835.50 1396.00,824.00 1384.00,824.00 1384.00,814.00 1396.00,814.00ZM1465.25,800.40 1475.25,800.40 1475.25,811.90 1487.25,811.90 1487.25,821.90 1475.25,821.90 1475.25,833.40 1465.25,833.40 1465.25,821.90 1453.25,821.90 1453.25,811.90 1465.25,811.90ZM1534.50,798.40 1544.50,798.40 1544.50,809.90 1556.50,809.90 1556.50,819.90 1544.50,819.90 1544.50,831.40 1534.50,831.40 1534.50,819.90 1522.50,819.90 1522.50,809.90 1534.50,809.90ZM1603.75,797.50 1613.75,797.50 1613.75,809.00 1625.75,809.00 1625.75,819.00 1613.75,819.00 1613.75,830.50 1603.75,830.50 1603.75,819.00 1591.75,819.00 1591.75,809.00 1603.75,809.00ZM1673.00,794.20 1683.00,794.20 1683.00,805.70 1695.00,805.70 1695.00,815.70 1683.00,815.70 1683.00,827.20 1673.00,827.20 1673.00,815.70 1661.00,815.70 1661.00,805.70 1673.00,805.70ZM1742.25,793.40 1752.25,793.40 1752.25,804.90 1764.25,804.90 1764.25,814.90 1752.25,814.90 1752.25,826.40 1742.25,826.40 1742.25,814.90 1730.25,814.90 1730.25,804.90 1742.25,804.90ZM1811.50,791.30 1821.50,791.30 1821.50,802.80 1833.50,802.80 1833.50,812.80 1821.50,812.80 1821.50,824.30 1811.50,824.30 1811.50,812.80 1799.50,812.80 1799.50,802.80 1811.50,802.80Z"/>
<rect x="696" y="204" width="27" height="27" rx="1.5" fill="#FFC000"/>
<rect x="836" y="356" width="25" height="25" fill="#1a1a1a" stroke="#3c3c3c" stroke-width="2"/>
<line x1="793.0" y1="283.0" x2="742.8" y2="244.2" stroke="#000" stroke-width="3.2"/><path d="M727.0,232.0 L751.1,236.7 L737.7,254.2 Z" fill="#000"/>
<line x1="928.7" y1="410.5" x2="885.4" y2="392.2" stroke="#000" stroke-width="3.2"/><path d="M867.0,384.4 L891.5,382.8 L883.0,403.1 Z" fill="#000"/>
<circle cx="1509.7" cy="500.5" r="14.6" fill="#0070C0"/>
<path fill="#00B050" d="M1507.30,586.80 1512.10,586.80 1524.20,608.90 1524.20,613.60 1522.00,615.80 1497.40,615.80 1495.20,613.60 1495.20,608.90Z"/>
<path fill="#C00000" d="M1505.00,687.40 1515.00,687.40 1515.00,698.90 1527.00,698.90 1527.00,708.90 1515.00,708.90 1515.00,720.40 1505.00,720.40 1505.00,708.90 1493.00,708.90 1493.00,698.90 1505.00,698.90Z"/>
<g font-family="Liberation Sans, Arial, sans-serif" fill="#000" stroke="#000" stroke-width="0.45">
<text transform="translate(167.11,164.30) scale(0.8248,0.8696)" font-size="100" clip-path="url(#k1)">1x10</text>
<text transform="translate(347.71,139.25) scale(0.5223,0.5504)" font-size="100">0</text>
<text transform="translate(170.54,381.80) scale(0.8191,0.8696)" font-size="100" clip-path="url(#k1)">1x10</text>
<text transform="translate(345.94,366.64) scale(0.6328,0.6958)" font-size="100">−</text>
<text transform="translate(379.06,357.90) scale(0.5671,0.5569)" font-size="100">2</text>
<text transform="translate(170.36,577.10) scale(0.8204,0.8696)" font-size="100" clip-path="url(#k1)">1x10</text>
<text transform="translate(345.84,564.98) scale(0.6328,0.7913)" font-size="100">−</text>
<text transform="translate(379.35,552.70) scale(0.5383,0.5623)" font-size="100">4</text>
<text transform="translate(170.36,771.10) scale(0.8204,0.8696)" font-size="100" clip-path="url(#k1)">1x10</text>
<text transform="translate(345.84,759.18) scale(0.6328,0.7913)" font-size="100">−</text>
<text transform="translate(379.40,746.45) scale(0.5590,0.5504)" font-size="100">6</text>
<text transform="translate(170.26,954.90) scale(0.8204,0.8696)" font-size="100" clip-path="url(#k1)">1x10</text>
<text transform="translate(345.84,940.26) scale(0.6328,0.7503)" font-size="100">−</text>
<text transform="translate(380.75,929.35) scale(0.5191,0.5504)" font-size="100">8</text>
<text transform="translate(431.50,1076.00) scale(0.8740,0.9080)" font-size="100" text-anchor="middle">0</text>
<text transform="translate(708.50,1076.00) scale(0.8740,0.9080)" font-size="100" text-anchor="middle">20</text>
<text transform="translate(985.50,1076.00) scale(0.8740,0.9080)" font-size="100" text-anchor="middle">40</text>
<text transform="translate(1262.50,1076.00) scale(0.8740,0.9080)" font-size="100" text-anchor="middle">60</text>
<text transform="translate(1539.50,1076.00) scale(0.8740,0.9080)" font-size="100" text-anchor="middle">80</text>
<text transform="translate(1816.50,1076.00) scale(0.8740,0.9080)" font-size="100" text-anchor="middle" clip-path="url(#k100)">100</text>
<text transform="translate(856.31,1185.00) scale(0.8760,0.8720)" font-size="100">Voltage (V)</text>
<text transform="translate(95.00,986.21) rotate(-90) scale(0.8777,0.8850)" font-size="100">Photoresponsivity (A/W)</text>
<text transform="translate(793.83,317.90) scale(0.8326,0.8400)" font-size="100">AlN micro/nanowire</text>
<text transform="translate(927.92,441.90) scale(0.8346,0.8400)" font-size="100">AlN film</text>
<text transform="translate(1578.67,526.70) scale(0.8835,0.9150)" font-size="100">Si</text>
<text transform="translate(1578.67,627.80) scale(0.8835,0.9150)" font-size="100">SiO</text>
<text transform="translate(1722.17,648.80) scale(0.7664,0.7736)" font-size="100">2</text>
<text transform="translate(1578.67,730.80) scale(0.8835,0.9150)" font-size="100">SLG</text>
</g>
</svg></body></html>
